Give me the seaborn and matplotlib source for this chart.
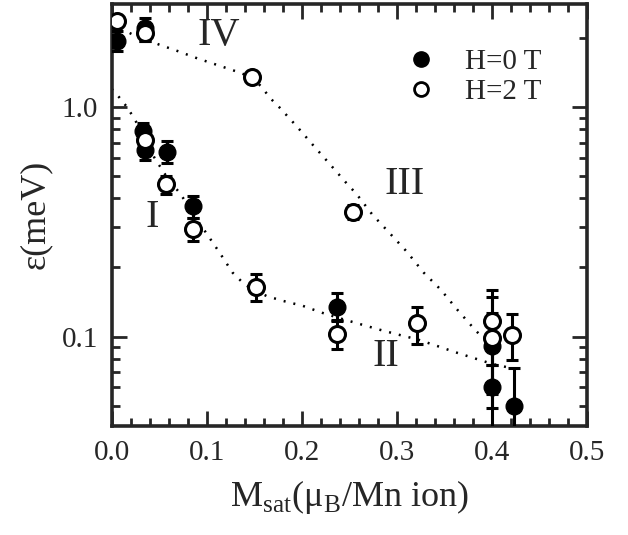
import numpy as np
import pandas as pd
import seaborn as sns
import matplotlib.pyplot as plt
from matplotlib.lines import Line2D
from matplotlib.ticker import FixedLocator, FixedFormatter, LogLocator, MultipleLocator, NullFormatter

# donnees
# H = 0 T (points pleins)
m0 = [0.005, 0.035, 0.033, 0.035, 0.058, 0.085, 0.237, 0.400, 0.400, 0.423]
e0 = [1.95, 2.20, 0.79, 0.65, 0.64, 0.37, 0.135, 0.091, 0.060, 0.050]
err0_lo = [0.20, 0.25, 0.06, 0.06, 0.07, 0.04, 0.018, 0.035, 0.030, 0.020]
err0_hi = [0.20, 0.25, 0.06, 0.06, 0.07, 0.04, 0.020, 0.035, 0.015, 0.023]

# H = 2 T (points ouverts)
m2 = [0.005, 0.035, 0.035, 0.057, 0.085, 0.152, 0.147, 0.254, 0.237, 0.321, 0.400, 0.400, 0.421]
e2 = [2.38, 2.10, 0.72, 0.46, 0.295, 0.165, 1.35, 0.35, 0.103, 0.114, 0.117, 0.099, 0.102]
err2_lo = [0.05, 0.15, 0.05, 0.04, 0.035, 0.022, 0.04, 0.025, 0.015, 0.021, 0.042, 0.050, 0.023]
err2_hi = [0.05, 0.15, 0.05, 0.04, 0.035, 0.022, 0.04, 0.025, 0.015, 0.021, 0.042, 0.050, 0.023]

# courbes guides (pointilles)
guide_IV_III_x = [0.0, 0.021, 0.05, 0.07, 0.09, 0.112, 0.131, 0.147, 0.158, 0.166, 0.176,
                  0.195, 0.212, 0.23, 0.248, 0.257, 0.274, 0.293, 0.31, 0.328, 0.346,
                  0.364, 0.382, 0.391]
guide_IV_III_y = [2.30, 2.08, 1.87, 1.75, 1.63, 1.52, 1.43, 1.35, 1.22, 1.10, 1.00,
                  0.82, 0.68, 0.56, 0.46, 0.42, 0.34, 0.28, 0.235, 0.19, 0.16,
                  0.13, 0.107, 0.098]
guide_I_II_x = [0.0, 0.008, 0.016, 0.023, 0.03, 0.045, 0.06, 0.072, 0.088, 0.1, 0.114,
                0.127, 0.14, 0.152, 0.163, 0.18, 0.201, 0.221, 0.24, 0.262, 0.282,
                0.301, 0.322, 0.342, 0.363, 0.383, 0.40, 0.419]
guide_I_II_y = [1.20, 1.10, 1.00, 0.90, 0.80, 0.60, 0.48, 0.42, 0.33, 0.28, 0.23,
                0.19, 0.168, 0.158, 0.150, 0.143, 0.136, 0.127, 0.120, 0.113, 0.107,
                0.102, 0.097, 0.091, 0.085, 0.080, 0.076, 0.073]

regions = ["IV", "III", "I", "II"]
region_x = [0.09, 0.287, 0.035, 0.274]
region_y = [2.05, 0.46, 0.33, 0.082]

legend_labels = ["H=0 T", "H=2 T"]

sns.set_style("ticks")
plt.rcParams['font.family'] = ['Liberation Serif', 'DejaVu Serif']
plt.rcParams['mathtext.fontset'] = 'custom'
plt.rcParams['mathtext.rm'] = 'Liberation Serif'

fig = plt.figure(figsize=(6.28, 5.35), dpi=100)
ax = fig.add_axes([0.178, 0.204, 0.757, 0.789])

guides = pd.concat([
    pd.DataFrame({"x": guide_IV_III_x, "y": guide_IV_III_y, "c": "IV-III"}),
    pd.DataFrame({"x": guide_I_II_x, "y": guide_I_II_y, "c": "I-II"}),
])
sns.lineplot(data=guides, x="x", y="y", units="c", estimator=None, sort=False,
             color="black", lw=1.8, ls=(0, (0.8, 3.2)), ax=ax, legend=False)

ax.errorbar(m0, e0, yerr=[err0_lo, err0_hi], fmt="o", ms=12, mfc="black", mec="black",
            ecolor="black", elinewidth=2.2, capsize=4, capthick=2.2, zorder=3)
ax.errorbar(m2, e2, yerr=[err2_lo, err2_hi], fmt="o", ms=11.5, mfc="white", mec="black",
            mew=2.2, ecolor="black", elinewidth=2.2, capsize=4, capthick=2.2, zorder=4)

for lab, x, y in zip(regions, region_x, region_y):
    ax.text(x, y, lab, fontsize=29, ha="left", va="center")

ax.set_yscale("log")
ax.set_xlim(0, 0.5)
ax.set_ylim(0.0408, 2.82)
ax.xaxis.set_major_locator(MultipleLocator(0.1))
ax.xaxis.set_minor_locator(MultipleLocator(0.02))
ax.yaxis.set_major_locator(FixedLocator([0.1, 1.0]))
ax.yaxis.set_major_formatter(FixedFormatter(["0.1", "1.0"]))
ax.yaxis.set_minor_locator(LogLocator(base=10, subs=np.arange(2, 10)))
ax.yaxis.set_minor_formatter(NullFormatter())
ax.tick_params(which="both", direction="in", top=True, right=True, width=2, labelsize=21)
ax.tick_params(which="major", length=11, pad=10)
ax.tick_params(which="minor", length=6)
for s in ax.spines.values():
    s.set_linewidth(2.6)

ax.set_xlabel(r"M$_\mathrm{sat}$(μ$_\mathrm{B}$/Mn ion)", fontsize=26, labelpad=9)
ax.set_ylabel("ε(meV)", fontsize=26, labelpad=7)

handles = [Line2D([], [], ls="none", marker="o", ms=11, mfc="black", mec="black"),
           Line2D([], [], ls="none", marker="o", ms=10, mfc="white", mec="black", mew=2)]
ax.legend(handles, legend_labels, loc="upper left", bbox_to_anchor=(0.565, 0.955), frameon=False,
          fontsize=21, handletextpad=1.0, labelspacing=0.1, handlelength=1.0)

fig.savefig("out.png", dpi=100)
